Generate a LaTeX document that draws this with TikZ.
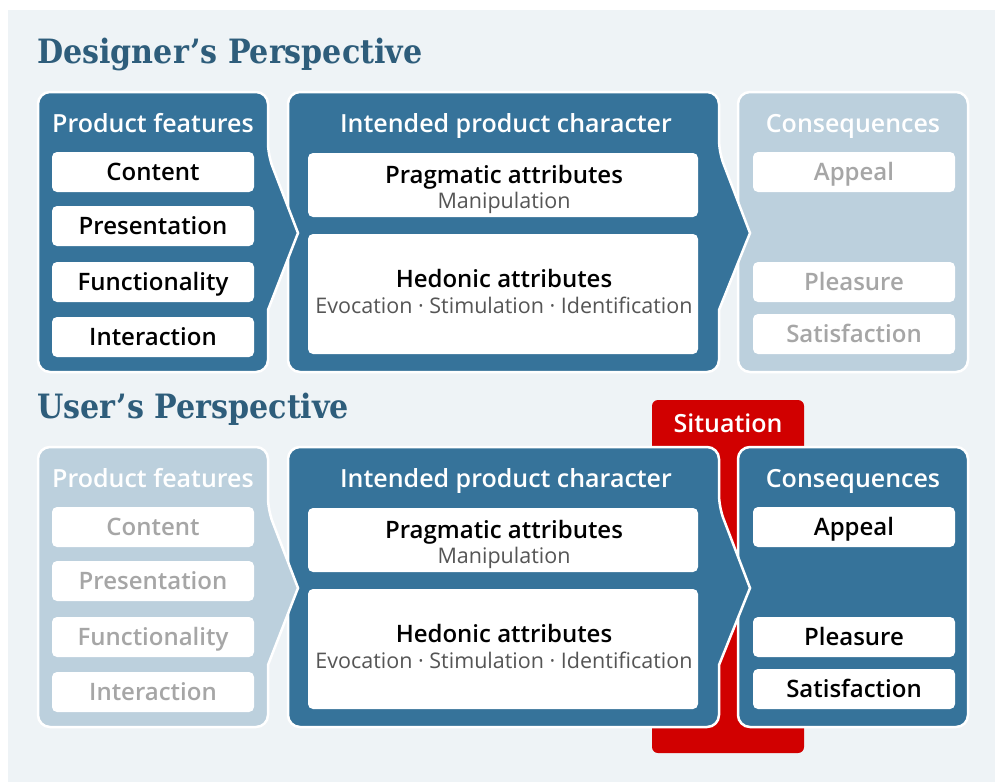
\documentclass[tikz,border=0pt]{standalone}
\usepackage{fontspec}
\setmainfont{Open Sans}
\IfFontExistsTF{Open Sans SemiBold}{\newfontfamily\semib{Open Sans SemiBold}}{%
  \IfFontExistsTF{Open Sans Semibold}{\newfontfamily\semib{Open Sans Semibold}}{\newcommand\semib{\bfseries}}}
\IfFontExistsTF{DejaVu Serif Condensed}{\newfontfamily\slab{DejaVu Serif Condensed}}{\newfontfamily\slab{DejaVu Serif}}
\definecolor{bgc}{HTML}{EEF3F6}
\definecolor{blueD}{HTML}{36739A}
\definecolor{fadedc}{HTML}{BCD0DD}
\definecolor{redc}{HTML}{D10000}
\definecolor{titlec}{HTML}{2E5D7B}
\definecolor{grayfade}{HTML}{A6A6A6}
\definecolor{graysub}{HTML}{555555}
\begin{document}
\begin{tikzpicture}[x=1pt,y=-1pt,
  bluebox/.style={fill=blueD, draw=white, line width=2.5pt},
  fadebox/.style={fill=fadedc, draw=white, line width=2.5pt},
  ptitle/.style={anchor=base west, inner sep=0pt, text=titlec, font=\slab\bfseries\fontsize{33.5}{33.5}\selectfont},
  head/.style={anchor=base, inner sep=0pt, text=white, font=\semib\fontsize{25}{25}\selectfont},
  ibox/.style={rectangle, fill=white, rounded corners=5pt, minimum width=202pt, minimum height=40pt, inner sep=0pt, text height=17pt, text depth=0pt, font=\semib\fontsize{24}{24}\selectfont},
  itemD/.style={ibox, text=black},
  itemF/.style={ibox, text=grayfade},
  abox/.style={rectangle, fill=white, rounded corners=5pt, minimum width=390pt, inner sep=0pt},
  amain/.style={anchor=base, inner sep=0pt, text=black, font=\semib\fontsize{24}{24}\selectfont},
  asub/.style={anchor=base, inner sep=0pt, text=graysub, font=\fontsize{21.5}{21.5}\selectfont}
]
\useasboundingbox (0,0) rectangle (995,782);
\fill[white] (0,0) rectangle (995,782);
\fill[bgc] (8,10) rectangle (995,782);

% titles
\node[ptitle] (t1) at (37,63) {Designer’s Perspective};
\node[ptitle] (t2) at (37,418) {User’s Perspective};

% ===== top row =====
\draw[fadebox, rounded corners=12pt] (738,92) rectangle (968,372);
\draw[bluebox] (288,232) [rounded corners=12pt] -- (288,92) -- (719,92) -- (719,152) [sharp corners] -- (750,233) -- (719,310) [rounded corners=12pt] -- (719,372) -- (288,372) -- cycle;
\draw[bluebox] (38,232) [rounded corners=12pt] -- (38,92) -- (268,92) -- (268,155) [sharp corners] -- (298,233) -- (268,310) [rounded corners=12pt] -- (268,372) -- (38,372) -- cycle;

\node[head] (pf1) at (153,132) {Product features};
\node[head] (ipc1) at (506,132) {Intended product character};
\node[head] (cq1) at (853,132) {Consequences};

\node[itemD] (cont1) at (153,172) {Content};
\node[itemD] (pres1) at (153,226) {Presentation};
\node[itemD] (func1) at (153,282) {Functionality};
\node[itemD] (inter1) at (153,337) {Interaction};

\node[abox, minimum height=64pt] (prag1) at (503,185) {};
\node[amain] (pragt1) at (504,183) {Pragmatic attributes};
\node[asub] (prags1) at (504,208) {Manipulation};
\node[abox, minimum height=120pt] (hed1) at (503,294) {};
\node[amain] (hedt1) at (504,287) {Hedonic attributes};
\node[asub] (heds1) at (504,313) {Evocation · Stimulation · Identification};

\node[itemF] (app1) at (854,172) {Appeal};
\node[itemF] (plea1) at (854,282) {Pleasure};
\node[itemF] (sat1) at (854,334) {Satisfaction};

% ===== bottom row =====
\fill[redc, rounded corners=6pt] (652,400) rectangle (804,753);
\node[head] (sit) at (728,432) {Situation};

\draw[bluebox, rounded corners=12pt] (738,447) rectangle (968,727);
\draw[bluebox] (288,587) [rounded corners=12pt] -- (288,447) -- (719,447) -- (719,507) [sharp corners] -- (750,588) -- (719,665) [rounded corners=12pt] -- (719,727) -- (288,727) -- cycle;
\draw[fadebox] (38,587) [rounded corners=12pt] -- (38,447) -- (268,447) -- (268,510) [sharp corners] -- (298,588) -- (268,665) [rounded corners=12pt] -- (268,727) -- (38,727) -- cycle;

\node[head] (pf2) at (153,487) {Product features};
\node[head] (ipc2) at (506,487) {Intended product character};
\node[head] (cq2) at (853,487) {Consequences};

\node[itemF] (cont2) at (153,527) {Content};
\node[itemF] (pres2) at (153,581) {Presentation};
\node[itemF] (func2) at (153,637) {Functionality};
\node[itemF] (inter2) at (153,692) {Interaction};

\node[abox, minimum height=64pt] (prag2) at (503,540) {};
\node[amain] (pragt2) at (504,538) {Pragmatic attributes};
\node[asub] (prags2) at (504,563) {Manipulation};
\node[abox, minimum height=120pt] (hed2) at (503,649) {};
\node[amain] (hedt2) at (504,642) {Hedonic attributes};
\node[asub] (heds2) at (504,668) {Evocation · Stimulation · Identification};

\node[itemD] (app2) at (854,527) {Appeal};
\node[itemD] (plea2) at (854,637) {Pleasure};
\node[itemD] (sat2) at (854,689) {Satisfaction};
\end{tikzpicture}
\end{document}
